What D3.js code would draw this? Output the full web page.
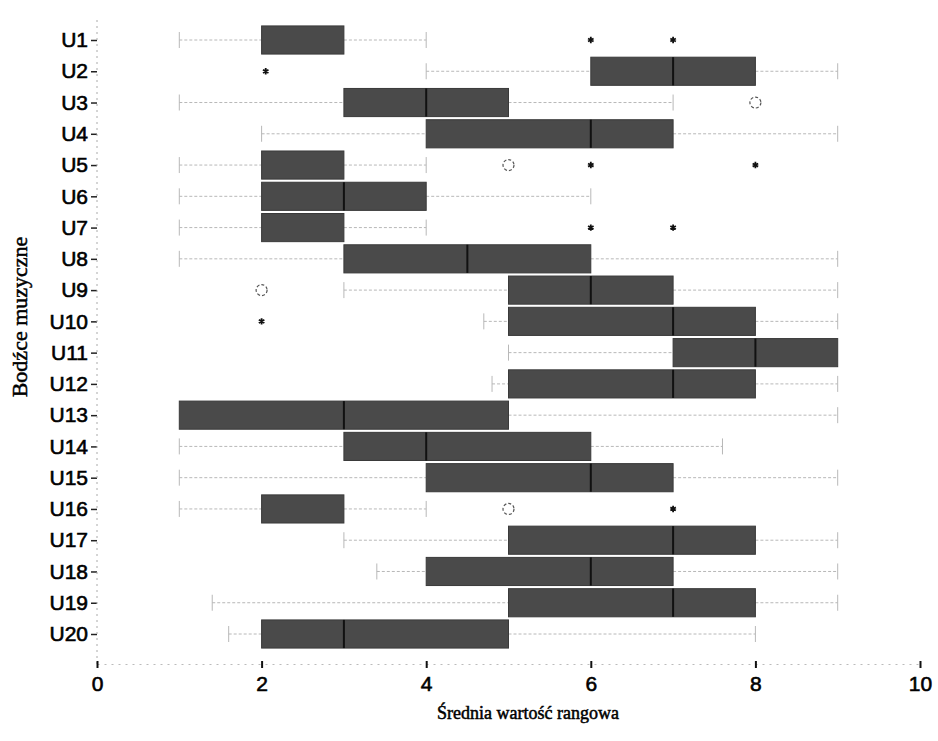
<!DOCTYPE html>
<html>
<head>
<meta charset="utf-8">
<script src="https://cdn.jsdelivr.net/npm/d3@7"></script>
<style>
  body { margin: 0; background: #fff; }
  svg { display: block; }
</style>
</head>
<body>
<svg width="938" height="741"></svg>
<script>
// stimuli and box statistics
const stimuli = ["U1","U2","U3","U4","U5","U6","U7","U8","U9","U10",
                 "U11","U12","U13","U14","U15","U16","U17","U18","U19","U20"];
const whiskerLow  = [1, 4, 1, 2, 1, 1, 1, 1, 3, 4.7, 5, 4.8, 1, 1, 1, 1, 3, 3.4, 1.4, 1.6];
const q1          = [2, 6, 3, 4, 2, 2, 2, 3, 5, 5,   7, 5,   1, 3, 4, 2, 5, 4,   5,   2];
const median      = [3, 7, 4, 6, 3, 3, 3, 4.5, 6, 7, 8, 7,   3, 4, 6, 3, 7, 6,   7,   3];
const q3          = [3, 8, 5, 7, 3, 4, 3, 6, 7, 8,   9, 8,   5, 6, 7, 3, 8, 7,   8,   5];
const whiskerHigh = [4, 9, 7, 9, 4, 6, 4, 9, 9, 9,   9, 9,   9, 7.6, 9, 4, 9, 9,  9,   8];
// outliers: [stimulus, value, kind]  "o" = circle, "*" = extreme
const outliers = [
  ["U1", 6, "*"], ["U1", 7, "*"],
  ["U2", 2.05, "*"],
  ["U3", 8, "o"],
  ["U5", 5, "o"], ["U5", 6, "*"], ["U5", 8, "*"],
  ["U7", 6, "*"], ["U7", 7, "*"],
  ["U9", 2, "o"],
  ["U10", 2, "*"],
  ["U16", 5, "o"], ["U16", 7, "*"]
];
const xTicks = [0, 2, 4, 6, 8, 10];

const svg = d3.select("svg");

const x = d3.scaleLinear().domain([0, 10]).range([97, 920]);
const y = d3.scalePoint().domain(stimuli).range([40, 634]);
const boxH = y.step() * 0.9;

const data = stimuli.map((s, i) => ({
  s, lo: whiskerLow[i], q1: q1[i], med: median[i], q3: q3[i], hi: whiskerHigh[i]
}));

const sans = "Liberation Sans, Arial, sans-serif";
const serif = "Liberation Serif, Times New Roman, serif";

// axes
const yAxis = svg.append("g")
  .attr("transform", `translate(${x(0)},0)`)
  .call(d3.axisLeft(y).tickSize(6).tickPadding(3));
yAxis.select(".domain").remove();
yAxis.selectAll(".tick line").attr("stroke", "#222").attr("stroke-width", 1.5);
yAxis.selectAll(".tick text")
  .attr("font-family", sans).attr("font-size", 21).attr("fill", "#000")
  .attr("stroke", "#000").attr("stroke-width", 0.6);

svg.append("line")
  .attr("x1", x(0)).attr("x2", x(0)).attr("y1", 20).attr("y2", 664)
  .attr("stroke", "#aaa").attr("stroke-dasharray", "2,4");

const xAxis = svg.append("g")
  .attr("transform", "translate(0,664)")
  .call(d3.axisBottom(x).tickValues(xTicks).tickSize(0).tickPadding(12).tickFormat(d3.format("d")));
xAxis.select(".domain").attr("stroke", "#bbb").attr("stroke-dasharray", "2,5");
xAxis.selectAll(".tick").append("line")
  .attr("y1", -3).attr("y2", 4).attr("stroke", "#111").attr("stroke-width", 2);
xAxis.selectAll(".tick text")
  .attr("font-family", sans).attr("font-size", 21).attr("fill", "#000")
  .attr("stroke", "#000").attr("stroke-width", 0.6);

// whiskers
const wh = svg.append("g").attr("stroke", "#b8b8b8").attr("stroke-width", 1);
data.forEach(d => {
  const cy = y(d.s);
  if (d.lo < d.q1) {
    wh.append("line").attr("x1", x(d.lo)).attr("x2", x(d.q1)).attr("y1", cy).attr("y2", cy)
      .attr("stroke-dasharray", "3,2");
    wh.append("line").attr("x1", x(d.lo)).attr("x2", x(d.lo)).attr("y1", cy - 8).attr("y2", cy + 8);
  }
  if (d.hi > d.q3) {
    wh.append("line").attr("x1", x(d.q3)).attr("x2", x(d.hi)).attr("y1", cy).attr("y2", cy)
      .attr("stroke-dasharray", "3,2");
    wh.append("line").attr("x1", x(d.hi)).attr("x2", x(d.hi)).attr("y1", cy - 8).attr("y2", cy + 8);
  }
});

// boxes
svg.append("g").selectAll("rect").data(data).join("rect")
  .attr("x", d => x(d.q1))
  .attr("y", d => y(d.s) - boxH / 2)
  .attr("width", d => x(d.q3) - x(d.q1))
  .attr("height", boxH)
  .attr("fill", "#4a4a4a")
  .attr("stroke", "#3a3a3a").attr("stroke-width", 1);

// medians
svg.append("g").selectAll("line").data(data.filter(d => d.med > d.q1 && d.med < d.q3)).join("line")
  .attr("x1", d => x(d.med)).attr("x2", d => x(d.med))
  .attr("y1", d => y(d.s) - boxH / 2).attr("y2", d => y(d.s) + boxH / 2)
  .attr("stroke", "#111").attr("stroke-width", 2);

// outliers
const og = svg.append("g");
og.selectAll("circle").data(outliers.filter(o => o[2] === "o")).join("circle")
  .attr("cx", d => x(d[1])).attr("cy", d => y(d[0])).attr("r", 5.5)
  .attr("fill", "none").attr("stroke", "#555").attr("stroke-width", 1.2)
  .attr("stroke-dasharray", "3,2");
og.selectAll("path").data(outliers.filter(o => o[2] === "*")).join("path")
  .attr("transform", d => `translate(${x(d[1])},${y(d[0])})`)
  .attr("d", d3.symbol(d3.symbolAsterisk, 28))
  .attr("fill", "none").attr("stroke", "#111").attr("stroke-width", 1.8);

// axis titles
svg.append("text")
  .attr("x", 528).attr("y", 719)
  .attr("text-anchor", "middle")
  .attr("font-family", serif).attr("font-size", 18)
  .attr("stroke", "#000").attr("stroke-width", 0.5)
  .text("Średnia wartość rangowa");

svg.append("text")
  .attr("transform", "translate(27,317) rotate(-90)")
  .attr("text-anchor", "middle")
  .attr("font-family", serif).attr("font-size", 22)
  .attr("stroke", "#000").attr("stroke-width", 0.5)
  .text("Bodźce muzyczne");
</script>
</body>
</html>
